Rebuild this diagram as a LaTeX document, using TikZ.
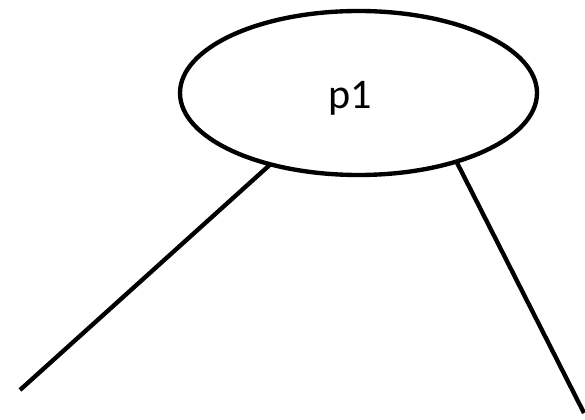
\documentclass[tikz,border=0pt]{standalone}
\usepackage{fontspec}
\setmainfont{Carlito}
\usetikzlibrary{shapes.geometric}
\tikzset{
  place/.style={ellipse, draw=black, line width=3.1pt, minimum width=8.925cm, minimum height=4.1cm, inner sep=0pt, outer sep=0pt},
  placelabel/.style={font=\fontsize{30}{36}\selectfont},
  branch/.style={line width=3.1pt, draw=black, line cap=butt},
}
\begin{document}
\begin{tikzpicture}
\useasboundingbox (0,0) rectangle (14.625,10.5);
\node[place, label={[placelabel, xshift=-0.21cm, yshift=-0.125cm]center:p1}] (p1) at (8.9625,8.175) {};
\coordinate (leftend) at (0.5,0.75);
\coordinate (rightend) at (14.6,0.175);
\draw[branch] (p1.219.6) -- (leftend);
\draw[branch] (p1.325.2) -- (rightend);
\end{tikzpicture}
\end{document}
